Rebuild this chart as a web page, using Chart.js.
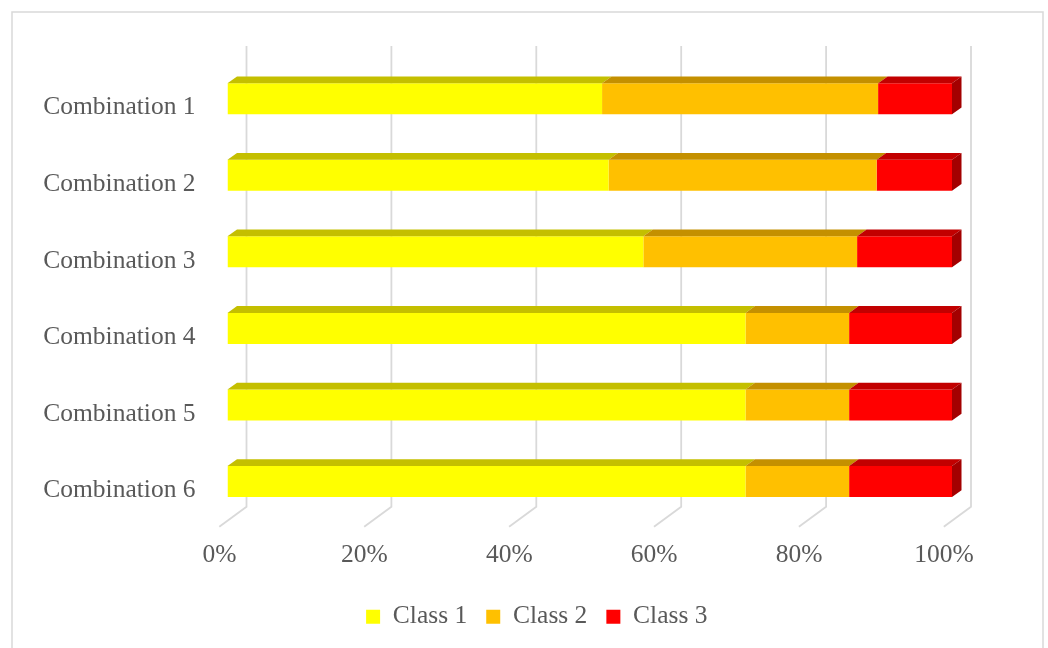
<!DOCTYPE html>
<html>
<head>
<meta charset="utf-8">
<script src="https://cdn.jsdelivr.net/npm/chart.js@4/dist/chart.umd.min.js"></script>
<style>
  html, body { margin: 0; padding: 0; background: #ffffff; }
  #wrap { width: 1048px; height: 648px; }
</style>
</head>
<body>
<div id="wrap"><canvas id="chart" width="1048" height="648"></canvas></div>
<script>
// Category labels (top to bottom)
const categories = ['Combination 1', 'Combination 2', 'Combination 3', 'Combination 4', 'Combination 5', 'Combination 6'];

// Share of each class per combination (%)
const class1 = [51.7, 52.6, 57.4, 71.5, 71.5, 71.5];
const class2 = [38.1, 37.0, 29.5, 14.3, 14.3, 14.3];
const class3 = [10.2, 10.4, 13.1, 14.2, 14.2, 14.2];

const seriesNames = ['Class 1', 'Class 2', 'Class 3'];
const xTickValues = [0, 20, 40, 60, 80, 100];

// Face colours: front, top and right side
const frontColors = ['#FFFF00', '#FFC000', '#FF0000'];
const topColors = ['#C4BF00', '#C49000', '#C20000'];
const sideColors = ['#A3A000', '#A37800', '#A30000'];

const FONT = "'Liberation Serif', 'Times New Roman', serif";
const TEXT = '#595959';
const GRID = '#d9d9d9';

// Pseudo-3D depth of the bars and of the plot box
const BAR_DX = 9.5, BAR_DY = 6.8;
const WALL_DX = 19, FRONT_DX = -8.2;

// Horizontal shift that centres the legend under the whole frame
const LEGEND_SHIFT = 60.8;

const depth3d = {
  id: 'depth3d',
  afterLayout(chart) {
    if (chart.legend) {
      chart.legend.left += LEGEND_SHIFT;
      chart.legend.right += LEGEND_SHIFT;
    }
  },
  beforeDraw(chart) {
    const ctx = chart.ctx;
    ctx.save();
    ctx.fillStyle = '#ffffff';
    ctx.fillRect(0, 0, chart.width, chart.height);
    ctx.strokeStyle = GRID;
    ctx.lineWidth = 1.5;
    ctx.strokeRect(12, 12, 1031, 700);
    ctx.restore();
  },
  beforeDatasetsDraw(chart) {
    // gridlines on the back wall, folding onto the floor
    const ctx = chart.ctx, area = chart.chartArea, xs = chart.scales.x;
    const topY = area.top - 14.5;
    const backY = area.bottom - 13;
    const frontY = area.bottom + 7;
    ctx.save();
    ctx.strokeStyle = GRID;
    ctx.lineWidth = 1.8;
    xTickValues.forEach(v => {
      const px = xs.getPixelForValue(v);
      ctx.beginPath();
      ctx.moveTo(px + WALL_DX, topY);
      ctx.lineTo(px + WALL_DX, backY);
      ctx.lineTo(px + FRONT_DX, frontY);
      ctx.stroke();
    });
    ctx.restore();
  },
  afterDatasetsDraw(chart) {
    const ctx = chart.ctx;
    const n = chart.data.datasets.length;
    ctx.save();
    for (let d = 0; d < n; d++) {
      const meta = chart.getDatasetMeta(d);
      meta.data.forEach(el => {
        const p = el.getProps(['x', 'y', 'base', 'height'], true);
        const top = p.y - p.height / 2;
        const bottom = p.y + p.height / 2;
        const x0 = Math.min(p.base, p.x), x1 = Math.max(p.base, p.x);
        // top face
        ctx.fillStyle = topColors[d];
        ctx.beginPath();
        ctx.moveTo(x0, top);
        ctx.lineTo(x0 + BAR_DX, top - BAR_DY);
        ctx.lineTo(x1 + BAR_DX, top - BAR_DY);
        ctx.lineTo(x1, top);
        ctx.closePath();
        ctx.fill();
        // right side face, visible only on the last segment
        if (d === n - 1) {
          ctx.fillStyle = sideColors[d];
          ctx.beginPath();
          ctx.moveTo(x1, top);
          ctx.lineTo(x1 + BAR_DX, top - BAR_DY);
          ctx.lineTo(x1 + BAR_DX, bottom - BAR_DY);
          ctx.lineTo(x1, bottom);
          ctx.closePath();
          ctx.fill();
        }
      });
    }
    ctx.restore();
  }
};

const seriesValues = [class1, class2, class3];

new Chart(document.getElementById('chart'), {
  type: 'bar',
  data: {
    labels: categories,
    datasets: seriesNames.map((name, i) => ({
      label: name,
      data: seriesValues[i],
      backgroundColor: frontColors[i],
      borderWidth: 0,
      barPercentage: 1,
      categoryPercentage: 0.405
    }))
  },
  options: {
    indexAxis: 'y',
    responsive: false,
    animation: false,
    devicePixelRatio: 1,
    layout: { padding: { left: 0, right: 96, top: 60.5, bottom: 8.5 } },
    plugins: {
      legend: {
        position: 'bottom',
        labels: {
          boxWidth: 14,
          boxHeight: 14,
          padding: 19,
          color: TEXT,
          font: { family: FONT, size: 25.5 }
        }
      },
      tooltip: { enabled: false }
    },
    scales: {
      x: {
        stacked: true,
        min: 0,
        max: 100,
        afterBuildTicks(scale) { scale.ticks = xTickValues.map(v => ({ value: v })); },
        afterFit(scale) { scale.height = 65.25; },
        grid: { display: false, drawTicks: false },
        border: { display: false },
        ticks: {
          padding: 20,
          labelOffset: -8,
          color: TEXT,
          font: { family: FONT, size: 25.5 },
          callback: v => v + '%'
        }
      },
      y: {
        stacked: true,
        afterFit(scale) { scale.width = 227.5; },
        grid: { display: false, drawTicks: false },
        border: { display: false },
        ticks: {
          padding: 32,
          labelOffset: 9,
          color: TEXT,
          font: { family: FONT, size: 25.5 }
        }
      }
    }
  },
  plugins: [depth3d]
});
</script>
</body>
</html>
